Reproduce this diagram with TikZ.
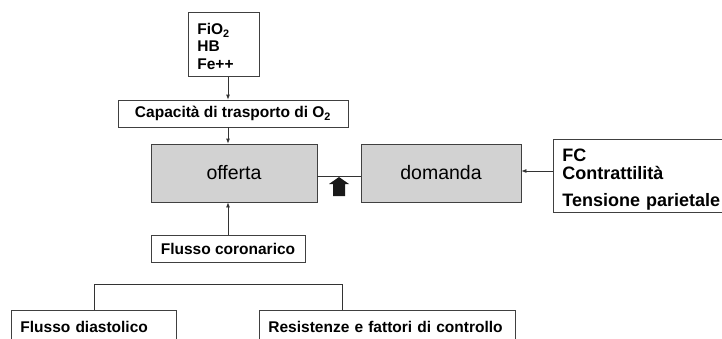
\documentclass[tikz,border=0pt]{standalone}
\usepackage{fontspec}
\setmainfont{Liberation Sans}
\usetikzlibrary{arrows.meta,calc}

\tikzset{
  box/.style={draw=black!75, line width=0.8pt, inner sep=0pt, font=\fontsize{15.5}{17.2}\selectfont\bfseries},
  bigbox/.style={draw=black!75, line width=0.8pt, fill=gray!35, inner sep=0pt, font=\fontsize{19.5}{22}\selectfont},
  link/.style={black!80, line width=0.8pt},
  arr/.style={link, -{Latex[length=5pt,width=4pt]}}
}

\begin{document}
\begin{tikzpicture}[x=1pt,y=-1pt]
    \useasboundingbox (0,0) rectangle (722,338);

    % supply side
    \node[box, anchor=north west, minimum width=71pt, minimum height=64pt, text width=53pt, align=left] (fio) at (188,12) {\rule{0pt}{15pt}FiO\textsubscript{2}\\HB\\Fe++};
    \node[box, minimum width=230pt, minimum height=27pt] (cap) at (233,113.5) {Capacità di trasporto di O\textsubscript{2}};
    \node[bigbox, minimum width=166pt, minimum height=58pt] (off) at (234,173) {offerta};
    \node[box, minimum width=154pt, minimum height=27pt] (cor) at (228,248.5) {Flusso coronarico};

    % demand side
    \node[bigbox, minimum width=160pt, minimum height=58pt] (dom) at (441,173) {domanda};
    \node[box, anchor=north west, minimum width=180pt, minimum height=73pt, text width=162pt, align=left, font=\fontsize{18}{20}\selectfont\bfseries] (fc) at (553,139) {\rule{0pt}{19pt}FC\\[-2pt]Contrattilità\\[7pt]Tensione parietale};

    % coronary flow components
    \node[box, anchor=north west, minimum width=165pt, minimum height=34pt, text width=147pt, align=left] (dia) at (11,310) {Flusso diastolico};
    \node[box, anchor=north west, minimum width=256pt, minimum height=34pt, text width=238pt, align=left] (res) at (259,310) {Resistenze e fattori di controllo};

    % connectors
    \coordinate (ax) at (228,0);
    \coordinate (fcin) at ([yshift=2pt]dom.east);
    \draw[arr] (fio.south -| ax) -- (cap.north -| ax);
    \draw[arr] (cap.south -| ax) -- (off.north -| ax);
    \draw[arr] (cor.north -| ax) -- (off.south -| ax);
    \draw[arr] (fc.west |- fcin) -- (fcin);
    \draw[link] ([yshift=-3pt]off.east) -- ([yshift=-3pt]dom.west);

    % block arrow under the link
    \fill[black!90] (333,196) -- (333,184) -- (329,184) -- (339,177) -- (349,184) -- (345,184) -- (345,196) -- cycle;

    % split of the coronary flow
    \coordinate (rj) at (342,284);
    \draw[link] (dia.north) |- (rj) -- (rj |- res.north);
\end{tikzpicture}
\end{document}
